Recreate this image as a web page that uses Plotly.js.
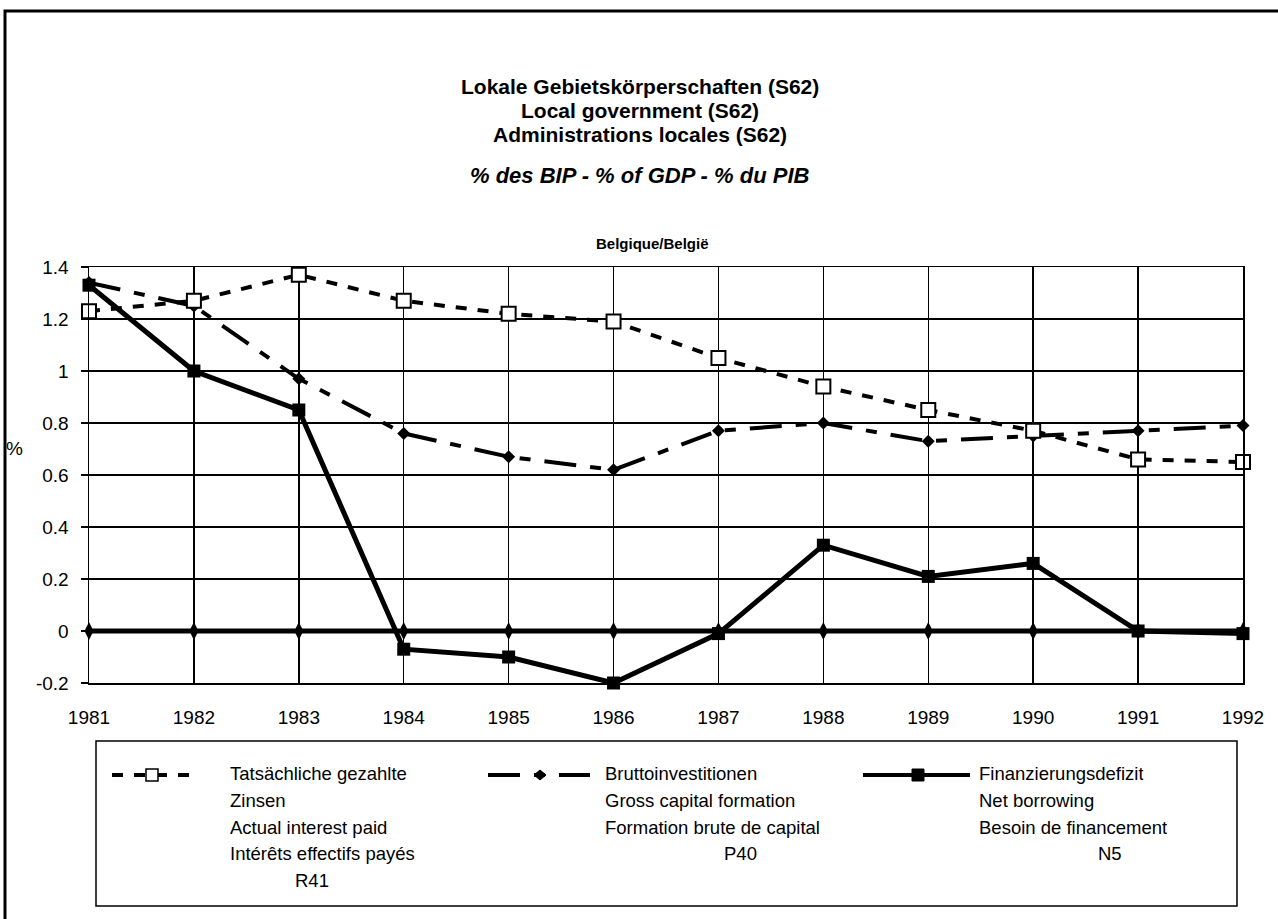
<!DOCTYPE html>
<html>
<head>
<meta charset="utf-8">
<script src="https://cdn.plot.ly/plotly-3.0.1.min.js"></script>
<style>html,body{margin:0;padding:0;background:#fff;}#chart{width:1278px;height:919px;}</style>
</head>
<body>
<div id="chart"></div>
<script>
// ---- data ----
const years = [1981, 1982, 1983, 1984, 1985, 1986, 1987, 1988, 1989, 1990, 1991, 1992];
const interestPaid = [1.23, 1.27, 1.37, 1.27, 1.22, 1.19, 1.05, 0.94, 0.85, 0.77, 0.66, 0.65];
const grossCapital = [1.34, 1.25, 0.97, 0.76, 0.67, 0.62, 0.77, 0.80, 0.73, 0.75, 0.77, 0.79];
const netBorrowing = [1.33, 1.00, 0.85, -0.07, -0.10, -0.20, -0.01, 0.33, 0.21, 0.26, 0.00, -0.01];
const zeroSeries = [0, 0, 0, 0, 0, 0, 0, 0, 0, 0, 0, 0];
const yTickVals = [-0.2, 0, 0.2, 0.4, 0.6, 0.8, 1, 1.2, 1.4];
const yTickText = ['-0.2', '0', '0.2', '0.4', '0.6', '0.8', '1', '1.2', '1.4'];
const titleLines = ['Lokale Gebietskörperschaften (S62)', 'Local government (S62)', 'Administrations locales (S62)'];
const unitTitle = '% des BIP - % of GDP - % du PIB';
const countryTitle = 'Belgique/België';
const legendTexts = [
  {lines: ['Tatsächliche gezahlte', 'Zinsen', 'Actual interest paid', 'Intérêts effectifs payés'], code: 'R41'},
  {lines: ['Bruttoinvestitionen', 'Gross capital formation', 'Formation brute de capital'], code: 'P40'},
  {lines: ['Finanzierungsdefizit', 'Net borrowing', 'Besoin de financement'], code: 'N5'}
];

// ---- layout helpers (pixel -> paper) ----
const W = 1278, H = 919;
const px = x => x / W;
const py = y => 1 - y / H;
const FONT = 'Liberation Sans, Arial, sans-serif';
const plotL = 89, plotR = 1243, plotT = 267, plotB = 683;

const dashInterest = '11px,11px';
const dashGross = '32px,14px,11px,14px';

const traces = [
  {x: years, y: zeroSeries, mode: 'lines+markers', showlegend: false, cliponaxis: false,
   line: {color: '#000', width: 5}, marker: {symbol: 'diamond-tall', size: 13, color: '#000'}},
  {x: years, y: grossCapital, mode: 'lines+markers', name: 'P40', showlegend: false, cliponaxis: false,
   line: {color: '#000', width: 4, dash: dashGross}, marker: {symbol: 'diamond', size: 10, color: '#000'}},
  {x: years, y: netBorrowing, mode: 'lines+markers', name: 'N5', showlegend: false, cliponaxis: false,
   line: {color: '#000', width: 5}, marker: {symbol: 'square', size: 13, color: '#000'}},
  {x: years, y: interestPaid, mode: 'lines+markers', name: 'R41', showlegend: false, cliponaxis: false,
   line: {color: '#000', width: 4, dash: dashInterest},
   marker: {symbol: 'square', size: 14, color: '#fff', line: {color: '#000', width: 2}}}
];

const annotations = [];
const ann = (text, x, y, size, opts) => annotations.push(Object.assign({
  text: text, x: px(x), y: py(y), xref: 'paper', yref: 'paper', showarrow: false,
  xanchor: 'center', yanchor: 'middle', font: {family: FONT, size: size, color: '#000'}
}, opts || {}));

const titleY = [86, 110, 134];
titleLines.forEach((t, i) => ann('<b>' + t + '</b>', 640, titleY[i], 21, {height: 24}));
ann('<b><i>' + unitTitle + '</i></b>', 640, 175, 22);
ann('<b>' + countryTitle + '</b>', 652, 244, 15);
ann('%', 14, 448, 19);

const colTextX = [228, 603, 977];
const codeX = [312, 740, 1110];
const lineY = [773, 800, 827, 853, 880];
legendTexts.forEach((e, c) => {
  e.lines.forEach((t, i) => ann(t, colTextX[c], lineY[i], 18.5, {xanchor: 'left', height: 25}));
  ann(e.code, codeX[c], lineY[e.lines.length], 18.5, {height: 25});
});

const shapes = [
  // outer page frame
  {type: 'rect', xref: 'paper', yref: 'paper', x0: px(5), x1: px(1300), y0: py(11), y1: py(940),
   line: {color: '#000', width: 3}},
  // legend box
  {type: 'rect', xref: 'paper', yref: 'paper', x0: px(96), x1: px(1237), y0: py(741), y1: py(906),
   line: {color: '#000', width: 1.5}},
  // legend samples
  {type: 'line', xref: 'paper', yref: 'paper', x0: px(112), x1: px(192), y0: py(775), y1: py(775),
   line: {color: '#000', width: 4, dash: dashInterest}},
  {type: 'rect', xref: 'paper', yref: 'paper', x0: px(146), x1: px(158), y0: py(769), y1: py(781),
   fillcolor: '#fff', line: {color: '#000', width: 1.5}},
  {type: 'line', xref: 'paper', yref: 'paper', x0: px(488), x1: px(590), y0: py(775), y1: py(775),
   line: {color: '#000', width: 4, dash: dashGross}},
  {type: 'path', xref: 'paper', yref: 'paper',
   path: `M ${px(534)} ${py(775)} L ${px(540)} ${py(770)} L ${px(546)} ${py(775)} L ${px(540)} ${py(780)} Z`,
   fillcolor: '#000', line: {color: '#000', width: 1}},
  {type: 'line', xref: 'paper', yref: 'paper', x0: px(863), x1: px(970), y0: py(775), y1: py(775),
   line: {color: '#000', width: 4}},
  {type: 'rect', xref: 'paper', yref: 'paper', x0: px(912), x1: px(924), y0: py(769), y1: py(781),
   fillcolor: '#000', line: {color: '#000', width: 1}}
];

const layout = {
  width: W, height: H,
  margin: {l: 0, r: 0, t: 0, b: 0},
  paper_bgcolor: '#fff', plot_bgcolor: '#fff',
  showlegend: false,
  font: {family: FONT, color: '#000'},
  xaxis: {
    domain: [px(plotL), px(plotR)], range: [1981, 1992], tickvals: years, ticktext: years.map(String),
    showgrid: true, gridcolor: '#000', gridwidth: 1.5, zeroline: false,
    showline: true, linecolor: '#000', linewidth: 1.5, mirror: true,
    ticks: '', tickfont: {family: FONT, size: 19, color: '#000'}, ticklabelstandoff: 17
  },
  yaxis: {
    domain: [py(plotB), py(plotT)], range: [-0.2, 1.4], tickvals: yTickVals, ticktext: yTickText,
    showgrid: true, gridcolor: '#000', gridwidth: 1.5, zeroline: false,
    showline: true, linecolor: '#000', linewidth: 1.5, mirror: true,
    ticks: 'outside', ticklen: 7, tickwidth: 1.5, tickcolor: '#000',
    tickfont: {family: FONT, size: 19, color: '#000'}, ticklabelstandoff: 8
  },
  annotations: annotations,
  shapes: shapes
};

Plotly.newPlot('chart', traces, layout, {staticPlot: true, displayModeBar: false});
</script>
</body>
</html>
